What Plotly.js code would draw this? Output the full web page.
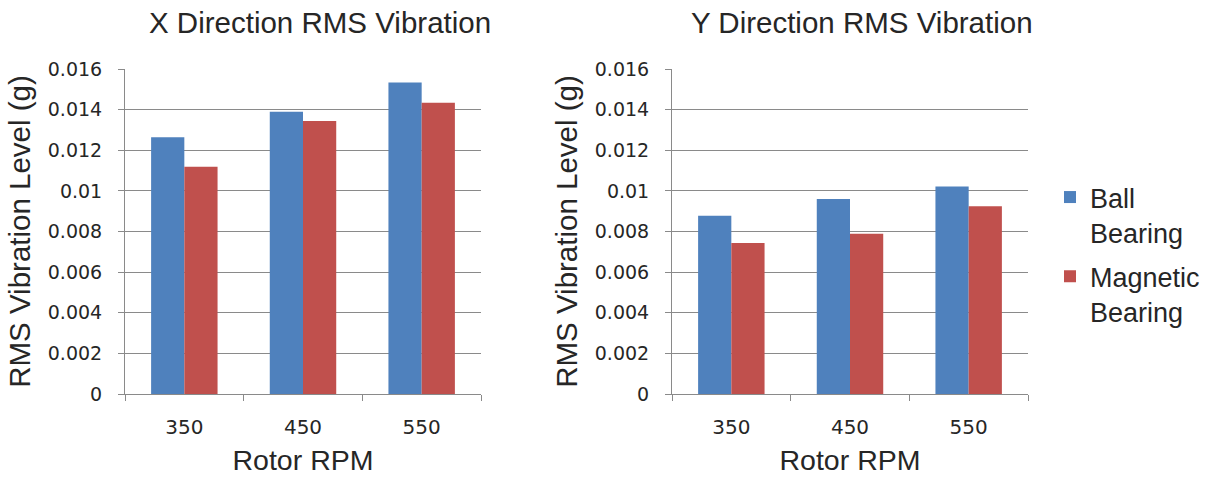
<!DOCTYPE html>
<html>
<head>
<meta charset="utf-8">
<script src="https://cdn.plot.ly/plotly-3.0.1.min.js"></script>
<style>html,body{margin:0;padding:0;background:#fff;}#chart{width:1217px;height:480px;}</style>
</head>
<body>
<div id="chart"></div>
<script>
const rpmCategories = ['350', '450', '550'];
const seriesNames = ['Ball<br>Bearing', 'Magnetic<br>Bearing'];
const xBall = [0.01264, 0.01390, 0.01533];
const xMagnetic = [0.01119, 0.01344, 0.01434];
const yBall = [0.00878, 0.00960, 0.01021];
const yMagnetic = [0.00743, 0.00789, 0.00924];
const chartTitles = ['X Direction RMS Vibration', 'Y Direction RMS Vibration'];
const xTitle = 'Rotor RPM';
const yTitle = 'RMS Vibration Level (g)';

const blue = '#4F81BD', red = '#C0504D';
const txt = '#262626', grid = '#8a8a8a';
const sans = 'Liberation Sans, Arial, sans-serif';
const headFont = {family: sans, size: 29.5, color: txt};
const xTitleFont = {family: sans, size: 28.5, color: txt};
const yTitleFont = {family: sans, size: 29.5, color: txt};
const xTickFont = {family: 'DejaVu Sans, Verdana, sans-serif', size: 20, color: txt};
const yTickFont = {family: 'DejaVu Sans, Verdana, sans-serif', size: 19, color: txt};

const traces = [
  {type: 'bar', x: rpmCategories, y: xBall, name: seriesNames[0], marker: {color: blue}, xaxis: 'x', yaxis: 'y', legendgroup: 'a'},
  {type: 'bar', x: rpmCategories, y: xMagnetic, name: seriesNames[1], marker: {color: red}, xaxis: 'x', yaxis: 'y', legendgroup: 'b'},
  {type: 'bar', x: rpmCategories, y: yBall, name: seriesNames[0], marker: {color: blue}, xaxis: 'x2', yaxis: 'y2', legendgroup: 'a', showlegend: false},
  {type: 'bar', x: rpmCategories, y: yMagnetic, name: seriesNames[1], marker: {color: red}, xaxis: 'x2', yaxis: 'y2', legendgroup: 'b', showlegend: false}
];

function xAxis(domain, anchor) {
  return {
    domain: domain, anchor: anchor, type: 'category',
    showline: true, linecolor: grid, linewidth: 1,
    ticks: 'outside', tickson: 'boundaries', ticklen: 6, tickcolor: grid,
    ticklabelstandoff: 15,
    tickfont: xTickFont, showgrid: false, zeroline: false,
    title: {text: xTitle, font: xTitleFont, standoff: 12},
    automargin: false, fixedrange: true
  };
}
function yAxis(anchor) {
  return {
    domain: [0, 1], anchor: anchor, range: [0, 0.016], dtick: 0.002, tick0: 0,
    showline: true, linecolor: grid, linewidth: 1,
    ticks: 'outside', ticklen: 6, tickcolor: grid,
    ticklabelstandoff: 12,
    showgrid: true, gridcolor: grid, gridwidth: 1, zeroline: false,
    tickfont: yTickFont,
    title: {text: yTitle, font: yTitleFont, standoff: 8},
    automargin: false, fixedrange: true
  };
}

const layout = {
  width: 1217, height: 480,
  margin: {l: 0, r: 0, t: 69, b: 86},
  paper_bgcolor: '#fff', plot_bgcolor: '#fff',
  barmode: 'group', bargap: 0.44, bargroupgap: 0,
  font: {family: sans, color: txt},
  xaxis: xAxis([125/1217, 481/1217], 'y'),
  yaxis: yAxis('x'),
  xaxis2: xAxis([672/1217, 1028/1217], 'y2'),
  yaxis2: yAxis('x2'),
  showlegend: true,
  legend: {
    x: 1050/1217, xanchor: 'left', y: (394 - 173) / 325, yanchor: 'top',
    font: {family: sans, size: 27, color: txt},
    bgcolor: 'rgba(0,0,0,0)', valign: 'top', tracegroupgap: 6
  },
  annotations: [
    {text: chartTitles[0], xref: 'paper', yref: 'paper', x: 320/1217, y: (394 - 22) / 325,
     xanchor: 'center', yanchor: 'middle', showarrow: false, font: headFont},
    {text: chartTitles[1], xref: 'paper', yref: 'paper', x: 862/1217, y: (394 - 22) / 325,
     xanchor: 'center', yanchor: 'middle', showarrow: false, font: headFont}
  ]
};

Plotly.newPlot('chart', traces, layout, {displayModeBar: false, staticPlot: true});
</script>
</body>
</html>
